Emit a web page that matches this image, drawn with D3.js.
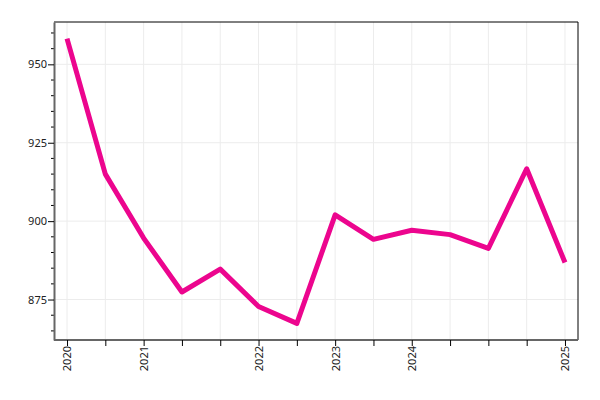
<!DOCTYPE html>
<html><head><meta charset="utf-8">
<script src="https://cdn.jsdelivr.net/npm/d3@7"></script>
<style>body{margin:0;background:#fff;}svg{display:block;}</style>
</head><body>
<script>
const categories = ["P1","P2","P3","P4","P5","P6","P7","P8","P9","P10","P11","P12","P13","P14"];
const tickLabels = ["2020","","2021","","","2022","","2023","","2024","","","","2025"];
const values = [958.2, 915.0, 894.6, 877.4, 884.7, 872.8, 867.4, 902.0, 894.2, 897.1, 895.7, 891.3, 916.7, 886.8];
const yTicks = [875, 900, 925, 950];

const W = 600, H = 400;
const m = {left: 54, right: 22, top: 22, bottom: 60};
const svg = d3.select("body").append("svg").attr("width", W).attr("height", H);
const x = d3.scalePoint().domain(categories).range([m.left, W - m.right]).padding(0.34);
const y = d3.scaleLinear().domain([862.1, 963.5]).range([H - m.bottom, m.top]);
const font = "Noto Sans";

// grid
const g = svg.append("g");
g.selectAll(".vg").data(categories).join("line")
  .attr("x1", d => x(d)).attr("x2", d => x(d)).attr("y1", m.top).attr("y2", H - m.bottom)
  .attr("stroke", "#ececec").attr("stroke-width", 1);
g.selectAll(".hg").data(yTicks).join("line")
  .attr("x1", m.left).attr("x2", W - m.right).attr("y1", d => y(d)).attr("y2", d => y(d))
  .attr("stroke", "#ececec").attr("stroke-width", 1);

// frame top/right
svg.append("path").attr("d", `M${m.left},${m.top}H${W - m.right}V${H - m.bottom}`)
  .attr("fill", "none").attr("stroke", "#000").attr("stroke-width", 1);

// line
const line = d3.line().x((d, i) => x(categories[i])).y(d => y(d));
svg.append("path").datum(values).attr("d", line)
  .attr("fill", "none").attr("stroke", "#ec058e").attr("stroke-width", 5)
  .attr("stroke-linejoin", "round").attr("stroke-linecap", "butt");

// y minor ticks
const minor = d3.range(865, 965, 5).filter(v => !yTicks.includes(v));
svg.append("g").selectAll("line").data(minor).join("line")
  .attr("x1", m.left - 3).attr("x2", m.left).attr("y1", d => y(d)).attr("y2", d => y(d))
  .attr("stroke", "#000").attr("stroke-width", 1);

// y axis
const yAx = svg.append("g").attr("transform", `translate(${m.left},0)`)
  .call(d3.axisLeft(y).tickValues(yTicks).tickSize(6).tickSizeOuter(0).tickPadding(1));
yAx.select(".domain").attr("stroke", "#666").attr("stroke-width", 2);
yAx.selectAll("text").attr("font-family", font).attr("font-size", 11).attr("fill", "#222");

// x axis
const xAx = svg.append("g").attr("transform", `translate(0,${H - m.bottom})`)
  .call(d3.axisBottom(x).tickFormat((d, i) => tickLabels[i]).tickSize(6).tickSizeOuter(0).tickPadding(3));
xAx.select(".domain").attr("d", `M${m.left},0H${W - m.right}`).attr("stroke", "#666").attr("stroke-width", 2);
xAx.selectAll("text").attr("font-family", font).attr("font-size", 11).attr("fill", "#222")
  .attr("transform", "rotate(-90)").attr("text-anchor", "end").attr("dy", "0.35em").attr("x", -6).attr("y", 0);
</script>
</body></html>
